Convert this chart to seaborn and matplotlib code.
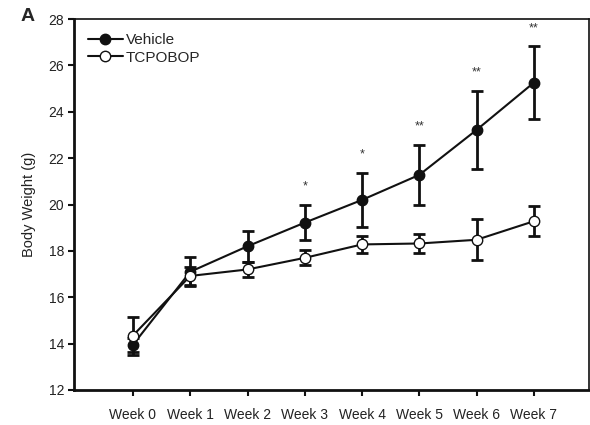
import matplotlib
matplotlib.use("Agg")
import matplotlib.pyplot as plt
import seaborn as sns
import pandas as pd
import numpy as np

weeks = ["Week 0", "Week 1", "Week 2", "Week 3", "Week 4", "Week 5", "Week 6", "Week 7"]
vehicle_mean = [13.95, 17.1, 18.2, 19.22, 20.2, 21.28, 23.22, 25.26]
vehicle_sem = [0.3, 0.62, 0.68, 0.77, 1.16, 1.28, 1.67, 1.56]
tcpobop_mean = [14.35, 16.92, 17.2, 17.7, 18.28, 18.32, 18.48, 19.28]
tcpobop_sem = [0.82, 0.4, 0.34, 0.32, 0.38, 0.42, 0.88, 0.65]
signif = ["", "", "", "*", "*", "**", "**", "**"]
yticks = [12, 14, 16, 18, 20, 22, 24, 26, 28]

sns.set_theme(style="white")
plt.rcParams['font.family'] = ['Liberation Sans', 'DejaVu Sans']

x = np.arange(len(weeks))
df = pd.DataFrame({
    "x": np.concatenate([x, x]),
    "weight": vehicle_mean + tcpobop_mean,
    "group": ["Vehicle"] * len(weeks) + ["TCPOBOP"] * len(weeks),
})

fig = plt.figure(figsize=(5.9, 4.25), dpi=100)
ax = fig.add_axes([0.1254, 0.0824, 0.8726, 0.8726])

col = "#111111"
ax.errorbar(x, vehicle_mean, yerr=vehicle_sem, fmt="none", ecolor=col,
            elinewidth=2.0, capsize=4.5, capthick=2.0, zorder=2)
ax.errorbar(x, tcpobop_mean, yerr=tcpobop_sem, fmt="none", ecolor=col,
            elinewidth=2.0, capsize=4.5, capthick=2.0, zorder=2)

sns.lineplot(data=df[df.group == "Vehicle"], x="x", y="weight", ax=ax,
             color=col, lw=1.5, marker="o", markersize=7.5, markerfacecolor=col,
             markeredgecolor=col, markeredgewidth=1, label="Vehicle", zorder=3)
sns.lineplot(data=df[df.group == "TCPOBOP"], x="x", y="weight", ax=ax,
             color=col, lw=1.5, marker="o", markersize=7.5, markerfacecolor="white",
             markeredgecolor=col, markeredgewidth=1, label="TCPOBOP", zorder=4)

for i, s in enumerate(signif):
    if s:
        ax.annotate(s, (x[i], vehicle_mean[i] + vehicle_sem[i]), xytext=(0, 9),
                    textcoords="offset points", ha="center", va="bottom",
                    fontsize=9, color="#333333")

ax.set_xlim(-1.03, 7.96)
ax.set_ylim(12, 28)
ax.set_xticks(x)
ax.set_xticklabels(weeks)
ax.set_yticks(yticks)
ax.set_xlabel("")
ax.set_ylabel("Body Weight (g)", fontsize=10.5, color="#222222", labelpad=9)
ax.tick_params(axis="both", which="both", direction="out", length=4, width=1.5,
               color=col, labelsize=10, labelcolor="#222222", pad=3,
               bottom=True, left=True)
ax.tick_params(axis="x", pad=9)

for side in ["left", "bottom"]:
    ax.spines[side].set_linewidth(2.0)
    ax.spines[side].set_color(col)
for side in ["top", "right"]:
    ax.spines[side].set_linewidth(1.2)
    ax.spines[side].set_color(col)

leg = ax.legend(loc="upper left", frameon=False, fontsize=11, handlelength=2.3,
                handletextpad=0.2, borderaxespad=0.5, labelspacing=0.25,
                borderpad=0.4)

fig.text(0.035, 0.962, "A", fontsize=14, fontweight="bold", ha="left", va="center")

fig.savefig("out.png", dpi=100)
